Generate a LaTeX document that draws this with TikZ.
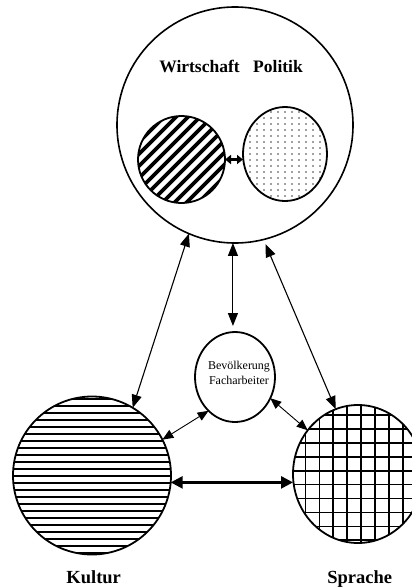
\documentclass[tikz,border=0pt]{standalone}
\usepackage{fontspec}
\setmainfont{Liberation Serif}
\usetikzlibrary{arrows.meta,shapes.geometric}
\begin{document}
\begin{tikzpicture}[x=1pt,y=-1pt,
  ring/.style={draw, line width=1.8pt, inner sep=0pt, outer sep=0pt},
  conn/.style={line width=1.1pt, {Triangle[length=13pt,width=10pt]}-{Triangle[length=13pt,width=10pt]}},
  connsm/.style={line width=0.9pt, {Triangle[length=11pt,width=9pt]}-{Triangle[length=11pt,width=9pt]}},
  connbig/.style={line width=2.6pt, {Triangle[length=12pt,width=12pt]}-{Triangle[length=12pt,width=12pt]}},
  connmini/.style={line width=2.2pt, {Triangle[length=6pt,width=9pt]}-{Triangle[length=6pt,width=9pt]}},
  lbl/.style={font=\fontsize{17.5}{20}\selectfont\bfseries, anchor=base, inner sep=0pt},
  lbllow/.style={font=\fontsize{18.5}{21}\selectfont\bfseries, anchor=base, inner sep=0pt},
  small/.style={font=\fontsize{12}{15}\selectfont, anchor=base, inner sep=0pt},
]
\useasboundingbox (0,0) rectangle (412,587);

% big circle
\node[ring, circle, line width=1.6pt, minimum size=236pt] (big) at (235,125) {};

% Wirtschaft (diagonal stripes)
\node[ring, circle, minimum size=87pt, path picture={
  \begin{scope}[shift={(path picture bounding box.center)}]
    \foreach \k in {-9,...,9} \draw[line width=3.6pt] (\k*12-60,60) -- (\k*12+60,-60);
  \end{scope}}] (wir) at (181.5,159.5) {};

% Politik (dots)
\node[ring, ellipse, minimum width=84pt, minimum height=94pt, path picture={
  \begin{scope}[shift={(path picture bounding box.center)}]
    \foreach \i in {-6,...,6} \foreach \j in {-8,...,8}
      \fill[black!75] (\i*7,\j*6) circle (0.85pt);
  \end{scope}}] (pol) at (285,154) {};

% middle
\node[ring, ellipse, minimum width=80pt, minimum height=90pt] (mid) at (235,377) {};
\node[small] (tbev) at (239,369) {Bevölkerung};
\node[small] (tfach) at (239,384) {Facharbeiter};

% Kultur (horizontal lines)
\node[ring, circle, minimum size=158pt, path picture={
  \begin{scope}[shift={(path picture bounding box.center)}]
    \foreach \k in {-12,...,12} \draw[line width=1.5pt] (-90,\k*7+0.5) -- (90,\k*7+0.5);
  \end{scope}}] (kul) at (92,475.5) {};

% Sprache (grid)
\node[ring, ellipse, minimum width=130pt, minimum height=138pt, path picture={
  \begin{scope}[shift={(path picture bounding box.center)}]
    \foreach \k in {-6,...,6} {
      \draw[line width=1.6pt] (\k*13.9+3,-80) -- (\k*13.9+3,80);
      \draw[line width=1.6pt] (-80,\k*13.9-3.3) -- (80,\k*13.9-3.3);
    }
  \end{scope}}] (spr) at (358,474) {};

% connectors
\draw[connmini] (wir.east) -- (wir.east -| pol.west);
\draw[conn] (big.-113) -- (kul.59);
\draw[conn, shorten >=6pt] (big.-91) -- (big.-91 |- mid.north);
\draw[conn, shorten <=5pt] (big.-76) -- (spr.109);
\draw[connsm] (mid.-128) -- (kul.27);
\draw[connsm] (mid.-31) -- (spr.139);
\draw[connbig] (kul.-5) -- (kul.-5 -| spr.west);

% labels
\node[lbl] (twir) at (199.5,72) {Wirtschaft};
\node[lbl] (tpol) at (278,72) {Politik};
\node[lbllow] (tkul) at (93.7,583) {Kultur};
\node[lbllow] (tspr) at (359.7,583) {Sprache};
\end{tikzpicture}
\end{document}
